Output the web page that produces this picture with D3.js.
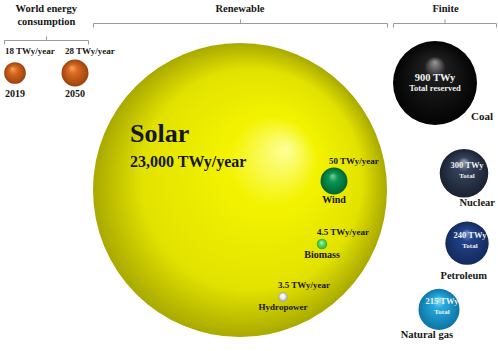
<!DOCTYPE html>
<html>
<head>
<meta charset="utf-8">
<script src="https://cdn.jsdelivr.net/npm/d3@7"></script>
<style>
  html, body { margin: 0; padding: 0; background: #fff; }
  svg text { font-family: "Liberation Serif", "DejaVu Serif", serif; font-weight: bold; }
</style>
</head>
<body>
<div id="bubble-chart"></div>
<script>
// Data
var consumptionYears = ["2019", "2050"];
var consumptionValues = [18, 28];

var renewableSources = ["Solar", "Wind", "Biomass", "Hydropower"];
var renewableValues = [23000, 50, 4.5, 3.5];

var finiteSources = ["Coal", "Nuclear", "Petroleum", "Natural gas"];
var finiteValues = [900, 300, 240, 215];
var finiteNotes = ["Total reserved", "Total", "Total", "Total"];

var groupTitles = [["World energy", "consumption"], ["Renewable"], ["Finite"]];

// Hand layout of the illustration (bubble anchors, label offsets)
var WIDTH = 498, HEIGHT = 351;
var consumptionLayout = [{ x: 15, y: 73 }, { x: 75, y: 73 }];
var solarLayout = { x: 240, y: 190 };
var renewableLayout = [null, { x: 334, y: 181 }, { x: 322, y: 244 }, { x: 283, y: 297 }];
var finiteTop = 41, finiteGap = 24;
var finiteLayout = [
  { x: 435, lx: 471, ly: 120, anchor: "start", big: true },
  { x: 464, lx: 495, ly: 206, anchor: "end" },
  { x: 467, lx: 487, ly: 279, anchor: "end" },
  { x: 439, lx: 453, ly: 338, anchor: "end" }
];

var gradients = {
  orange: { f: [0.38, 0.3], stops: [["0", "#f6a464"], ["0.35", "#d9691f"], ["1", "#9a420e"]] },
  yellow: { f: [0.66, 0.36], stops: [["0", "#ffff9a"], ["0.3", "#f3f300"], ["0.75", "#e2e200"], ["1", "#a9a900"]] },
  wind: { f: [0.45, 0.3], stops: [["0", "#6fd89a"], ["0.35", "#0c9452"], ["1", "#006333"]] },
  biomass: { f: [0.45, 0.35], stops: [["0", "#c4f9c4"], ["0.4", "#62dc62"], ["1", "#33ad33"]] },
  hydro: { f: [0.45, 0.35], stops: [["0", "#ffffff"], ["0.5", "#ececec"], ["1", "#9c9c9c"]] },
  coal: { f: [0.5, 0.25], stops: [["0", "#9a9a9a"], ["0.25", "#1e1e1e"], ["1", "#030303"]] },
  nuclear: { f: [0.5, 0.25], stops: [["0", "#9aa4b8"], ["0.3", "#36425a"], ["1", "#1a2232"]] },
  petroleum: { f: [0.5, 0.25], stops: [["0", "#7890cc"], ["0.3", "#22428a"], ["1", "#132a5c"]] },
  gas: { f: [0.5, 0.25], stops: [["0", "#a4ecfa"], ["0.3", "#25aadb"], ["1", "#0e74a6"]] }
};
var renewableFill = ["yellow", "wind", "biomass", "hydro"];
var finiteFill = ["coal", "nuclear", "petroleum", "gas"];

var TEXT = "#161616";

// Scales
var consumptionR = d3.scaleSqrt().domain([0, 28]).range([0, 13.5]);
var renewableR = d3.scalePow().exponent(0.39).domain([0, 23000]).range([0, 147]);
var finiteR = d3.scaleSqrt().domain([0, 900]).range([0, 42]);

var svg = d3.select("#bubble-chart")
  .append("svg")
  .attr("width", WIDTH)
  .attr("height", HEIGHT);

// Gradients
var defs = svg.append("defs");
Object.keys(gradients).forEach(function(key) {
  var g = gradients[key];
  var grad = defs.append("radialGradient")
    .attr("id", "grad-" + key)
    .attr("cx", 0.5).attr("cy", 0.5).attr("r", 0.5)
    .attr("fx", g.f[0]).attr("fy", g.f[1]);
  g.stops.forEach(function(s) {
    grad.append("stop").attr("offset", s[0]).attr("stop-color", s[1]);
  });
});

// Bracket helper
var drawBracket = function(x0, x1, y) {
  var xm = (x0 + x1) / 2;
  svg.append("path")
    .attr("d", "M" + x0 + "," + (y + 4) + "V" + y + "H" + x1 + "V" + (y + 4) +
      "M" + xm + "," + y + "V" + (y - 4))
    .attr("fill", "none")
    .attr("stroke", "#9a9a9a")
    .attr("stroke-width", 1);
};

var drawTitle = function(lines, x, y0) {
  var t = svg.append("text")
    .attr("x", x)
    .attr("text-anchor", "middle")
    .style("font-size", "10.5px")
    .attr("fill", TEXT);
  lines.forEach(function(l, i) {
    t.append("tspan").attr("x", x).attr("y", y0 + i * 13).text(l);
  });
};

// --- World energy consumption ---
var consumption = consumptionYears.map(function(year, i) {
  return { year: year, value: consumptionValues[i], x: consumptionLayout[i].x, y: consumptionLayout[i].y, r: consumptionR(consumptionValues[i]) };
});

var cLeft = d3.min(consumption, d => d.x - d.r);
var cRight = d3.max(consumption, d => d.x + d.r);
drawTitle(groupTitles[0], (cLeft + cRight) / 2, 12);
drawBracket(Math.round(cLeft) + 0.5, Math.round(cRight) - 0.5, 40.5);

svg.selectAll(".consumption")
  .data(consumption)
  .enter()
  .append("circle")
  .attr("class", "consumption")
  .attr("cx", d => d.x)
  .attr("cy", d => d.y)
  .attr("r", d => d.r)
  .attr("fill", "url(#grad-orange)");

svg.selectAll(".consumption-value")
  .data(consumption)
  .enter()
  .append("text")
  .attr("x", d => d.x - 10)
  .attr("y", d => d.y - 19)
  .style("font-size", "9px")
  .attr("fill", TEXT)
  .text(d => d.value + " TWy/year");

svg.selectAll(".consumption-year")
  .data(consumption)
  .enter()
  .append("text")
  .attr("x", d => d.x)
  .attr("y", d => d.y + 24)
  .attr("text-anchor", "middle")
  .style("font-size", "10px")
  .attr("fill", TEXT)
  .text(d => d.year);

// --- Renewable ---
var renewable = renewableSources.map(function(name, i) {
  var pos = i === 0 ? solarLayout : renewableLayout[i];
  return { name: name, value: renewableValues[i], x: pos.x, y: pos.y, r: renewableR(renewableValues[i]), fill: renewableFill[i] };
});
var solar = renewable[0];

drawTitle(groupTitles[1], solar.x, 12);
drawBracket(Math.round(solar.x - solar.r) + 0.5, Math.round(solar.x + solar.r) + 0.5, 23.5);

svg.selectAll(".renewable")
  .data(renewable)
  .enter()
  .append("circle")
  .attr("class", "renewable")
  .attr("cx", d => d.x)
  .attr("cy", d => d.y)
  .attr("r", d => d.r)
  .attr("fill", d => "url(#grad-" + d.fill + ")");

svg.append("text")
  .attr("x", solar.x - 110)
  .attr("y", solar.y - 48)
  .style("font-size", "26px")
  .attr("fill", TEXT)
  .text(solar.name);

svg.append("text")
  .attr("x", solar.x - 110)
  .attr("y", solar.y - 23)
  .style("font-size", "16px")
  .attr("fill", TEXT)
  .text(d3.format(",")(solar.value) + " TWy/year");

var minor = renewable.slice(1);

svg.selectAll(".renewable-value")
  .data(minor)
  .enter()
  .append("text")
  .attr("x", d => d.x - 5)
  .attr("y", d => d.y - d.r - 4)
  .style("font-size", "9px")
  .attr("fill", TEXT)
  .text(d => d.value + " TWy/year");

svg.selectAll(".renewable-name")
  .data(minor)
  .enter()
  .append("text")
  .attr("x", d => d.x)
  .attr("y", d => d.y + d.r + 8.5)
  .attr("text-anchor", "middle")
  .style("font-size", d => d.name === "Hydropower" ? "9px" : "10px")
  .attr("fill", TEXT)
  .text(d => d.name);

// --- Finite ---
var prevY = null, prevR = null;
var finite = finiteSources.map(function(name, i) {
  var r = finiteR(finiteValues[i]);
  var y = prevY === null ? finiteTop + r : prevY + prevR + finiteGap + r;
  prevY = y; prevR = r;
  return Object.assign({ name: name, value: finiteValues[i], note: finiteNotes[i], r: r, y: y, fill: finiteFill[i] }, finiteLayout[i]);
});

var fLeft = d3.min(finite, d => d.x - d.r);
drawTitle(groupTitles[2], (fLeft + WIDTH) / 2, 12);
drawBracket(Math.round(fLeft) + 0.5, WIDTH - 1.5, 23.5);

svg.selectAll(".finite")
  .data(finite)
  .enter()
  .append("circle")
  .attr("class", "finite")
  .attr("cx", d => d.x)
  .attr("cy", d => d.y)
  .attr("r", d => d.r)
  .attr("fill", d => "url(#grad-" + d.fill + ")");

svg.selectAll(".finite-value")
  .data(finite)
  .enter()
  .append("text")
  .attr("x", d => d.big ? d.x : d.x + 3)
  .attr("y", d => d.big ? d.y - 2 : d.y - 5)
  .attr("text-anchor", "middle")
  .style("font-size", d => d.big ? "10.5px" : "8.5px")
  .attr("fill", "#f2f2f2")
  .text(d => d.value + " TWy");

svg.selectAll(".finite-note")
  .data(finite)
  .enter()
  .append("text")
  .attr("x", d => d.big ? d.x : d.x + 3)
  .attr("y", d => d.big ? d.y + 8 : d.y + 5)
  .attr("text-anchor", "middle")
  .style("font-size", d => d.big ? "8.5px" : "7px")
  .attr("fill", "#f2f2f2")
  .text(d => d.note);

svg.selectAll(".finite-name")
  .data(finite)
  .enter()
  .append("text")
  .attr("x", d => d.lx)
  .attr("y", d => d.ly)
  .attr("text-anchor", d => d.anchor)
  .style("font-size", d => d.big ? "11px" : "10.5px")
  .attr("fill", TEXT)
  .text(d => d.name);
</script>
</body>
</html>
